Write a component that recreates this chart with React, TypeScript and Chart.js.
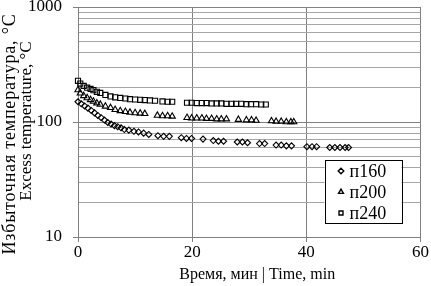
import React, { useEffect, useRef } from 'react';
import { Chart, registerables } from 'chart.js';

Chart.register(...registerables);

// ---------- data ----------
const seriesLabels = ['п160', 'п200', 'п240'];

const timeP160 = [0, 0.58, 1.16, 1.74, 2.32, 2.9, 3.48, 4.06, 4.64, 5.22, 5.8, 6.38, 6.96, 7.54, 8.12, 8.9, 9.8, 10.6, 11.5, 12.4, 14.0, 15.0, 16.0, 18.1, 19.0, 19.9, 21.9, 23.7, 24.6, 25.5, 27.9, 28.8, 29.7, 31.8, 32.7, 34.7, 35.6, 36.5, 37.4, 40.1, 41.0, 41.8, 44.1, 45.0, 45.9, 46.8, 47.4];
const tempP160 = [150, 144, 138, 132, 126, 120, 114, 109, 104, 99, 96, 93, 91, 89, 86, 85, 83, 82, 80, 78, 76, 75, 75, 73, 72, 72, 71, 69, 68, 68, 67, 67, 66, 65, 65, 63, 63, 62, 62, 61, 61, 61, 60, 60, 60, 60, 60];

const timeP200 = [0, 0.4, 1.0, 1.6, 2.2, 2.7, 3.3, 3.9, 4.8, 5.7, 6.5, 7.4, 8.3, 9.1, 10.0, 10.9, 11.7, 13.9, 14.8, 15.7, 16.5, 19.1, 19.9, 20.8, 21.7, 22.5, 23.4, 24.3, 25.1, 26.0, 28.1, 29.5, 30.4, 31.2, 33.9, 34.7, 35.6, 36.5, 37.3, 37.8];
const tempP200 = [190, 178, 169, 162, 156, 151, 146, 142, 137, 133, 128, 125, 123, 121, 120, 119, 118, 114, 113, 113, 112, 109, 108, 108, 108, 107, 107, 106, 106, 106, 105, 104, 104, 103, 102, 101, 101, 100, 100, 100];

const timeP240 = [0, 0.4, 1.0, 1.6, 2.2, 2.7, 3.3, 3.9, 4.8, 5.7, 6.5, 7.4, 8.3, 9.1, 10.0, 10.9, 11.7, 12.6, 13.5, 14.8, 15.7, 16.5, 19.1, 19.9, 20.8, 21.7, 22.5, 23.4, 24.3, 25.1, 26.0, 26.9, 27.7, 28.6, 29.5, 30.3, 31.2, 32.1, 32.9];
const tempP240 = [228, 216, 206, 199, 194, 189, 183, 179, 172, 167, 164, 162, 160, 158, 157, 156, 155, 154, 153, 151, 150, 150, 147, 147, 146, 146, 146, 145, 145, 145, 144, 144, 144, 144, 143, 143, 143, 142, 142];

const xTickValues = [0, 20, 40, 60];
const yMajorTicks = [10, 100, 1000];
const yGridValues = [10, 20, 30, 40, 50, 60, 70, 80, 90, 100, 200, 300, 400, 500, 600, 700, 800, 900, 1000];

const xTitle = 'Время, мин | Time, min';
const yTitleLines = ['Избыточная температура, °C', 'Excess temperature, °C'];

// ---------- styling ----------
const FONT = "'Liberation Serif', 'Times New Roman', serif";
const MAJOR_GRID = '#808080';
const MINOR_GRID = '#a6a6a6';

Chart.defaults.font.family = FONT;
Chart.defaults.color = '#000';

function drawMarker(ctx: CanvasRenderingContext2D, style: string, x: number, y: number, r: number) {
  ctx.beginPath();
  if (style === 'rectRot') {
    ctx.moveTo(x, y - r);
    ctx.lineTo(x + r, y);
    ctx.lineTo(x, y + r);
    ctx.lineTo(x - r, y);
    ctx.closePath();
  } else if (style === 'triangle') {
    const h = r * 1.5;
    const w = r * Math.sqrt(3);
    ctx.moveTo(x, y - r);
    ctx.lineTo(x + w / 2, y - r + h);
    ctx.lineTo(x - w / 2, y - r + h);
    ctx.closePath();
  } else {
    const s = r * Math.SQRT1_2;
    ctx.rect(x - s, y - s, 2 * s, 2 * s);
  }
  ctx.stroke();
}

export default function App() {
  const ref = useRef<HTMLCanvasElement>(null);

  useEffect(() => {
    const canvas = ref.current;
    if (!canvas) return;

    const series = [
      { label: seriesLabels[0], t: timeP160, v: tempP160, style: 'rectRot', r: 3 },
      { label: seriesLabels[1], t: timeP200, v: tempP200, style: 'triangle', r: 3.6 },
      { label: seriesLabels[2], t: timeP240, v: tempP240, style: 'rect', r: 3.6 },
    ];

    const overlay = {
      id: 'titlesAndLegend',
      afterDraw(chart: any) {
        const ctx: any = chart.ctx;
        const a = chart.chartArea;
        ctx.save();
        ctx.fillStyle = '#000';
        ctx.textBaseline = 'middle';
        ctx.textAlign = 'center';
        // x title
        ctx.font = `16px ${FONT}`;
        ctx.fillText(xTitle, (a.left + a.right) / 2 + 8, 275);
        // y title (two rotated lines)
        const fonts = [`18px ${FONT}`, `17px ${FONT}`];
        const spacing = ['0.8px', '0px'];
        const yCenters = [134, 121];
        const xCenters = [10, 27];
        yTitleLines.forEach((line, i) => {
          ctx.save();
          ctx.font = fonts[i];
          ctx.letterSpacing = spacing[i];
          ctx.translate(xCenters[i], yCenters[i]);
          ctx.rotate(-Math.PI / 2);
          ctx.fillText(line, 0, 0);
          ctx.restore();
        });
        // legend
        const bx = a.right - 96, by = 160.5, bw = 77, bh = 63;
        ctx.fillStyle = '#fff';
        ctx.fillRect(bx, by, bw, bh);
        ctx.strokeStyle = '#000';
        ctx.lineWidth = 1;
        ctx.strokeRect(Math.round(bx) + 0.5, by, bw, bh);
        ctx.font = `18px ${FONT}`;
        ctx.textAlign = 'left';
        ctx.fillStyle = '#000';
        series.forEach((s, i) => {
          const cy = by + 10.5 + i * 21;
          ctx.lineWidth = 1.4;
          drawMarker(ctx, s.style, bx + 16.5, cy, 2.8);
          ctx.fillText(s.label, bx + 25, cy + 1);
        });
        ctx.restore();
      },
    };

    const chart = new Chart(canvas, {
      type: 'scatter',
      data: {
        datasets: series.map((s) => ({
          label: s.label,
          data: s.t.map((x, i) => ({ x, y: s.v[i] })),
          pointStyle: s.style as any,
          pointRadius: s.r,
          pointBorderWidth: 1.1,
          borderColor: '#000',
          pointBorderColor: '#000',
          backgroundColor: 'rgba(0,0,0,0)',
          pointBackgroundColor: 'rgba(0,0,0,0)',
          showLine: false,
          clip: false as any,
        })),
      },
      options: {
        responsive: false,
        animation: false,
        events: [],
        layout: { padding: { top: 7, right: 9, left: 0, bottom: 0 } },
        plugins: {
          legend: { display: false },
          tooltip: { enabled: false },
          title: { display: false },
        },
        scales: {
          x: {
            type: 'linear',
            min: 0,
            max: 60,
            afterBuildTicks: (s: any) => {
              s.ticks = xTickValues.map((v) => ({ value: v }));
            },
            afterFit: (s: any) => {
              s.height = 49;
            },
            grid: { color: MAJOR_GRID, tickColor: MAJOR_GRID, tickLength: 5, lineWidth: 1 },
            border: { color: MAJOR_GRID },
            ticks: {
              color: '#000',
              font: { family: FONT, size: 17, lineHeight: 1 },
              padding: 2,
              maxRotation: 0,
              autoSkip: false,
            },
          },
          y: {
            type: 'logarithmic',
            min: 10,
            max: 1000,
            afterBuildTicks: (s: any) => {
              s.ticks = yGridValues.map((v) => ({ value: v, major: yMajorTicks.includes(v) }));
            },
            afterFit: (s: any) => {
              s.width = 78;
              s.paddingTop = 0;
              s.paddingBottom = 0;
            },
            grid: {
              color: (c: any) => (c.tick && yMajorTicks.includes(c.tick.value) ? MAJOR_GRID : MINOR_GRID),
              tickColor: (c: any) => (c.tick && yMajorTicks.includes(c.tick.value) ? MAJOR_GRID : 'rgba(0,0,0,0)'),
              tickLength: 5,
              lineWidth: 1,
            },
            border: { color: MAJOR_GRID },
            ticks: {
              color: '#000',
              font: { family: FONT, size: 17, lineHeight: 0.8 },
              padding: 11,
              autoSkip: false,
              callback: (v: any) => (yMajorTicks.includes(Number(v)) ? String(v) : ''),
            },
          },
        },
      },
      plugins: [overlay],
    });

    return () => chart.destroy();
  }, []);

  return (
    <div style={{ position: 'absolute', left: 0, top: 0, width: 431, height: 286, background: '#fff' }}>
      <canvas ref={ref} width={431} height={286} style={{ display: 'block' }} />
    </div>
  );
}
